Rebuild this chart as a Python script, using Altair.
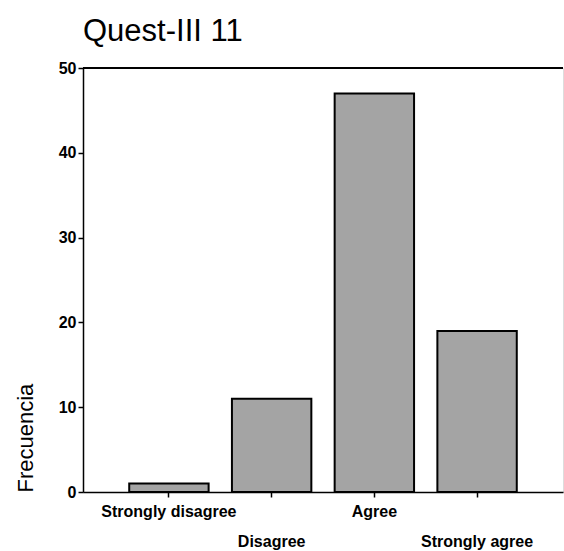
import altair as alt
import pandas as pd

categories = ["Strongly disagree", "Disagree", "Agree", "Strongly agree"]
counts = [1, 11, 47, 19]
y_ticks = [0, 10, 20, 30, 40, 50]

df = pd.DataFrame({"respuesta": categories, "frecuencia": counts})

FONT = "Liberation Sans"
W, H = 480, 424

x_enc = alt.X(
    "respuesta:N",
    sort=categories,
    scale=alt.Scale(paddingInner=0.227, paddingOuter=0.45),
    axis=alt.Axis(
        title=None,
        labels=False,
        domainColor="black",
        domainWidth=1.5,
        tickColor="black",
        tickWidth=1.5,
        tickSize=5,
    ),
)

bars = alt.Chart(df).mark_bar(
    fill="#a4a4a4", stroke="black", strokeWidth=2
).encode(
    x=x_enc,
    y=alt.Y(
        "frecuencia:Q",
        scale=alt.Scale(domain=[0, 50], nice=False),
        axis=alt.Axis(
            title="Frecuencia",
            values=y_ticks,
            grid=False,
            domainColor="black",
            domainWidth=1.5,
            tickColor="black",
            tickWidth=1.5,
            tickSize=5,
            labelFont=FONT,
            labelFontSize=16,
            labelFontWeight="bold",
            labelColor="black",
            labelPadding=2,
            titleFont=FONT,
            titleFontSize=22,
            titleFontWeight="normal",
            titleColor="black",
            titleAngle=270,
            titleAlign="left",
            titleBaseline="alphabetic",
            titleX=-51,
            titleY=H,
        ),
    ),
)

# top frame line at the axis maximum
top_line = alt.Chart(df).mark_rule(color="black", strokeWidth=1.5).encode(
    y=alt.datum(50)
)

base_labels = alt.Chart(df).transform_window(idx="row_number()")

label_style = dict(
    font=FONT, fontSize=16, fontWeight="bold", color="black",
    baseline="middle", align="center",
)

labels_upper = base_labels.transform_filter("datum.idx % 2 == 1").mark_text(
    **label_style
).encode(
    x=alt.X("respuesta:N", sort=categories),
    y=alt.value(H + 20),
    text="respuesta:N",
)

labels_lower = base_labels.transform_filter("datum.idx % 2 == 0").mark_text(
    **label_style
).encode(
    x=alt.X("respuesta:N", sort=categories),
    y=alt.value(H + 50),
    text="respuesta:N",
)

chart = (
    alt.layer(bars, top_line, labels_upper, labels_lower)
    .properties(
        width=W,
        height=H,
        autosize=alt.AutoSizeParams(type="none"),
        padding={"left": 83, "top": 68, "right": 1, "bottom": 59},
        title=alt.TitleParams(
            "Quest-III 11",
            anchor="start",
            frame="group",
            font=FONT,
            fontSize=31,
            fontWeight="normal",
            color="black",
            baseline="alphabetic",
            offset=-12,
        ),
    )
    .configure_view(stroke=None)
    .configure(background="white")
)

chart.save("out.html", embed_options={"renderer": "svg", "actions": False})
